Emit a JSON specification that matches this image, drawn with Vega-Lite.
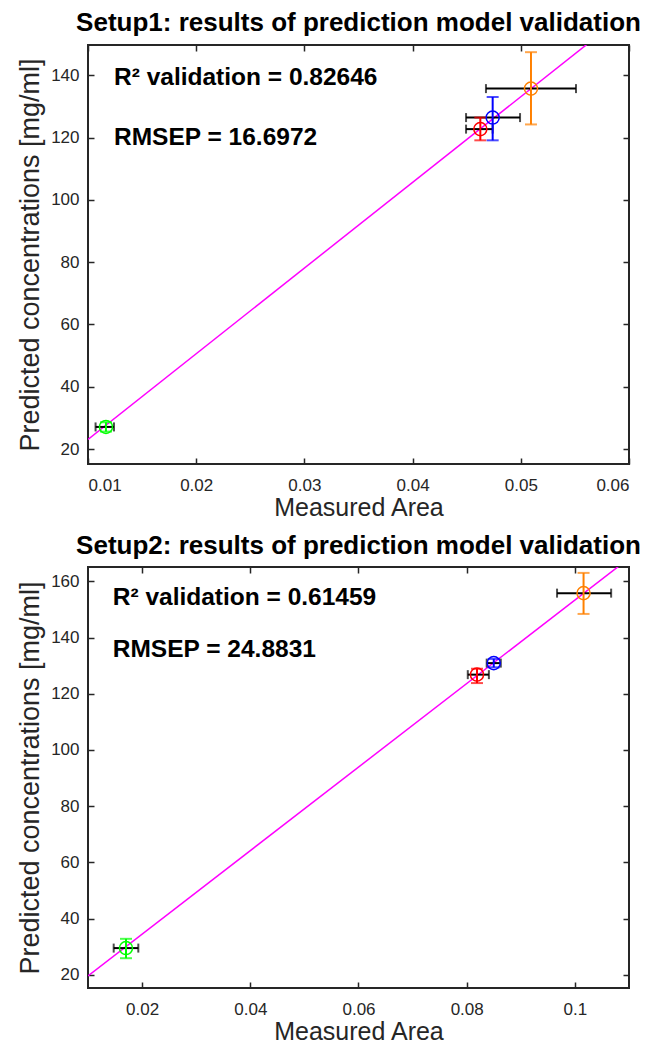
{
  "$schema": "https://vega.github.io/schema/vega-lite/v6.json",
  "background": "white",
  "padding": {"left": 15, "top": 9, "right": 5, "bottom": 0},
  "config": {
    "font": "Liberation Sans",
    "view": {"stroke": "#262626", "strokeWidth": 2},
    "axis": {"domain": false, "grid": false, "tickSize": -6, "tickWidth": 1.5, "tickColor": "#262626",
             "labelColor": "#262626", "labelFontSize": 17, "labelFont": "Liberation Sans",
             "titleColor": "#262626", "titleFontWeight": "normal", "titleFont": "Liberation Sans"},
    "title": {"font": "Liberation Sans", "fontSize": 26, "fontWeight": "bold", "color": "black", "anchor": "middle"}
  },
  "datasets": {
    "pts1": [
      {"sample": "S1", "area": 0.01166, "area_lo": 0.0107, "area_hi": 0.0124, "conc": 27.1, "conc_lo": 25.6, "conc_hi": 28.6},
      {"sample": "S2", "area": 0.04626, "area_lo": 0.04494, "area_hi": 0.0474, "conc": 122.7, "conc_lo": 119.1, "conc_hi": 126.4},
      {"sample": "S3", "area": 0.0474, "area_lo": 0.04494, "area_hi": 0.04993, "conc": 126.4, "conc_lo": 119.1, "conc_hi": 133.0},
      {"sample": "S4", "area": 0.05094, "area_lo": 0.04678, "area_hi": 0.0551, "conc": 135.7, "conc_lo": 124.2, "conc_hi": 147.4}
    ],
    "fit1": [{"area": 0.01, "conc": 23.1}, {"area": 0.06, "conc": 160.6}],
    "pts2": [
      {"sample": "S1", "area": 0.01702, "area_lo": 0.01475, "area_hi": 0.0193, "conc": 29.5, "conc_lo": 25.9, "conc_hi": 32.8},
      {"sample": "S2", "area": 0.0819, "area_lo": 0.0802, "area_hi": 0.0841, "conc": 126.8, "conc_lo": 123.8, "conc_hi": 128.9},
      {"sample": "S3", "area": 0.085, "area_lo": 0.0837, "area_hi": 0.0863, "conc": 130.9, "conc_lo": 129.4, "conc_hi": 132.4},
      {"sample": "S4", "area": 0.1016, "area_lo": 0.0967, "area_hi": 0.1067, "conc": 155.8, "conc_lo": 148.4, "conc_hi": 163.0}
    ],
    "fit2": [{"area": 0.01, "conc": 19.6}, {"area": 0.11, "conc": 168.2}],
    "one": [{}]
  },
  "spacing": 11,
  "vconcat": [
    {
      "width": 541, "height": 419,
      "title": {"text": "Setup1: results of prediction model validation", "offset": 8},
      "layer": [
        {"layer": [
          {"data": {"name": "fit1"}, "mark": {"type": "line", "clip": true, "color": "#ff00ff", "strokeWidth": 1.5},
           "encoding": {
             "x": {"field": "area", "type": "quantitative", "scale": {"domain": [0.01, 0.06], "nice": false, "zero": false},
                   "axis": {"title": "Measured Area", "values": [0.01, 0.02, 0.03, 0.04, 0.05, 0.06], "format": "~g", "labelPadding": 19, "titleFontSize": 25, "titlePadding": 2}},
             "y": {"field": "conc", "type": "quantitative", "scale": {"domain": [15.2, 149.7], "nice": false, "zero": false},
                   "axis": {"title": "Predicted concentrations [mg/ml]", "values": [20, 40, 60, 80, 100, 120, 140], "labelPadding": 15, "titleFontSize": 27, "titlePadding": 6}}}},
          {"data": {"name": "pts1"}, "mark": {"type": "rule", "color": "black", "strokeWidth": 2},
           "encoding": {"x": {"field": "area_lo", "type": "quantitative"}, "x2": {"field": "area_hi"}, "y": {"field": "conc", "type": "quantitative"}}},
          {"data": {"name": "pts1"}, "mark": {"type": "tick", "orient": "vertical", "size": 9, "thickness": 2, "color": "black"},
           "encoding": {"x": {"field": "area_lo", "type": "quantitative"}, "y": {"field": "conc", "type": "quantitative"}}},
          {"data": {"name": "pts1"}, "mark": {"type": "tick", "orient": "vertical", "size": 9, "thickness": 2, "color": "black"},
           "encoding": {"x": {"field": "area_hi", "type": "quantitative"}, "y": {"field": "conc", "type": "quantitative"}}},
          {"data": {"name": "pts1"}, "mark": {"type": "rule", "strokeWidth": 2},
           "encoding": {"x": {"field": "area", "type": "quantitative"}, "y": {"field": "conc_lo", "type": "quantitative"}, "y2": {"field": "conc_hi"},
                        "color": {"field": "sample", "type": "nominal", "scale": {"domain": ["S1", "S2", "S3", "S4"], "range": ["#00ff00", "#ff0000", "#0000ff", "#ff8000"]}, "legend": null}}},
          {"data": {"name": "pts1"}, "mark": {"type": "tick", "orient": "horizontal", "size": 12, "thickness": 2},
           "encoding": {"x": {"field": "area", "type": "quantitative"}, "y": {"field": "conc_lo", "type": "quantitative"},
                        "color": {"field": "sample", "type": "nominal", "legend": null}}},
          {"data": {"name": "pts1"}, "mark": {"type": "tick", "orient": "horizontal", "size": 12, "thickness": 2},
           "encoding": {"x": {"field": "area", "type": "quantitative"}, "y": {"field": "conc_hi", "type": "quantitative"},
                        "color": {"field": "sample", "type": "nominal", "legend": null}}},
          {"data": {"name": "pts1"}, "mark": {"type": "point", "shape": "circle", "filled": false, "size": 170, "strokeWidth": 1.5, "opacity": 1},
           "encoding": {"x": {"field": "area", "type": "quantitative"}, "y": {"field": "conc", "type": "quantitative"},
                        "color": {"field": "sample", "type": "nominal", "legend": null}}},
          {"data": {"name": "one"}, "mark": {"type": "text", "align": "left", "baseline": "middle", "fontSize": 24.5, "fontWeight": "bold", "color": "black"},
           "encoding": {"x": {"datum": 0.0124}, "y": {"datum": 139}, "text": {"value": "R² validation = 0.82646"}}},
          {"data": {"name": "one"}, "mark": {"type": "text", "align": "left", "baseline": "middle", "fontSize": 24.5, "fontWeight": "bold", "color": "black"},
           "encoding": {"x": {"datum": 0.0124}, "y": {"datum": 119.7}, "text": {"value": "RMSEP = 16.6972"}}}
        ]},
        {"data": {"name": "fit1"}, "mark": {"type": "point", "opacity": 0, "clip": true},
         "encoding": {
           "x": {"field": "area", "type": "quantitative", "scale": {"domain": [0.01, 0.06], "nice": false, "zero": false},
                 "axis": {"orient": "top", "labels": false, "title": null, "values": [0.01, 0.02, 0.03, 0.04, 0.05, 0.06], "maxExtent": 0}},
           "y": {"field": "conc", "type": "quantitative", "scale": {"domain": [15.2, 149.7], "nice": false, "zero": false},
                 "axis": {"orient": "right", "labels": false, "title": null, "values": [20, 40, 60, 80, 100, 120, 140], "maxExtent": 0}}}}
      ],
      "resolve": {"scale": {"x": "independent", "y": "independent"}}
    },
    {
      "width": 541, "height": 421,
      "title": {"text": "Setup2: results of prediction model validation", "offset": 7},
      "layer": [
        {"layer": [
          {"data": {"name": "fit2"}, "mark": {"type": "line", "clip": true, "color": "#ff00ff", "strokeWidth": 1.5},
           "encoding": {
             "x": {"field": "area", "type": "quantitative", "scale": {"domain": [0.01, 0.11], "nice": false, "zero": false},
                   "axis": {"title": "Measured Area", "values": [0.02, 0.04, 0.06, 0.08, 0.1], "format": "~g", "labelPadding": 19, "titleFontSize": 25, "titlePadding": 2}},
             "y": {"field": "conc", "type": "quantitative", "scale": {"domain": [15.3, 165.1], "nice": false, "zero": false},
                   "axis": {"title": "Predicted concentrations [mg/ml]", "values": [20, 40, 60, 80, 100, 120, 140, 160], "labelPadding": 15, "titleFontSize": 27, "titlePadding": 6}}}},
          {"data": {"name": "pts2"}, "mark": {"type": "rule", "color": "black", "strokeWidth": 2},
           "encoding": {"x": {"field": "area_lo", "type": "quantitative"}, "x2": {"field": "area_hi"}, "y": {"field": "conc", "type": "quantitative"}}},
          {"data": {"name": "pts2"}, "mark": {"type": "tick", "orient": "vertical", "size": 9, "thickness": 2, "color": "black"},
           "encoding": {"x": {"field": "area_lo", "type": "quantitative"}, "y": {"field": "conc", "type": "quantitative"}}},
          {"data": {"name": "pts2"}, "mark": {"type": "tick", "orient": "vertical", "size": 9, "thickness": 2, "color": "black"},
           "encoding": {"x": {"field": "area_hi", "type": "quantitative"}, "y": {"field": "conc", "type": "quantitative"}}},
          {"data": {"name": "pts2"}, "mark": {"type": "rule", "strokeWidth": 2},
           "encoding": {"x": {"field": "area", "type": "quantitative"}, "y": {"field": "conc_lo", "type": "quantitative"}, "y2": {"field": "conc_hi"},
                        "color": {"field": "sample", "type": "nominal", "scale": {"domain": ["S1", "S2", "S3", "S4"], "range": ["#00ff00", "#ff0000", "#0000ff", "#ff8000"]}, "legend": null}}},
          {"data": {"name": "pts2"}, "mark": {"type": "tick", "orient": "horizontal", "size": 12, "thickness": 2},
           "encoding": {"x": {"field": "area", "type": "quantitative"}, "y": {"field": "conc_lo", "type": "quantitative"},
                        "color": {"field": "sample", "type": "nominal", "legend": null}}},
          {"data": {"name": "pts2"}, "mark": {"type": "tick", "orient": "horizontal", "size": 12, "thickness": 2},
           "encoding": {"x": {"field": "area", "type": "quantitative"}, "y": {"field": "conc_hi", "type": "quantitative"},
                        "color": {"field": "sample", "type": "nominal", "legend": null}}},
          {"data": {"name": "pts2"}, "mark": {"type": "point", "shape": "circle", "filled": false, "size": 170, "strokeWidth": 1.5, "opacity": 1},
           "encoding": {"x": {"field": "area", "type": "quantitative"}, "y": {"field": "conc", "type": "quantitative"},
                        "color": {"field": "sample", "type": "nominal", "legend": null}}},
          {"data": {"name": "one"}, "mark": {"type": "text", "align": "left", "baseline": "middle", "fontSize": 24.5, "fontWeight": "bold", "color": "black"},
           "encoding": {"x": {"datum": 0.01457}, "y": {"datum": 154.2}, "text": {"value": "R² validation = 0.61459"}}},
          {"data": {"name": "one"}, "mark": {"type": "text", "align": "left", "baseline": "middle", "fontSize": 24.5, "fontWeight": "bold", "color": "black"},
           "encoding": {"x": {"datum": 0.01457}, "y": {"datum": 135.7}, "text": {"value": "RMSEP = 24.8831"}}}
        ]},
        {"data": {"name": "fit2"}, "mark": {"type": "point", "opacity": 0, "clip": true},
         "encoding": {
           "x": {"field": "area", "type": "quantitative", "scale": {"domain": [0.01, 0.11], "nice": false, "zero": false},
                 "axis": {"orient": "top", "labels": false, "title": null, "values": [0.02, 0.04, 0.06, 0.08, 0.1], "maxExtent": 0}},
           "y": {"field": "conc", "type": "quantitative", "scale": {"domain": [15.3, 165.1], "nice": false, "zero": false},
                 "axis": {"orient": "right", "labels": false, "title": null, "values": [20, 40, 60, 80, 100, 120, 140, 160], "maxExtent": 0}}}}
      ],
      "resolve": {"scale": {"x": "independent", "y": "independent"}}
    }
  ]
}
